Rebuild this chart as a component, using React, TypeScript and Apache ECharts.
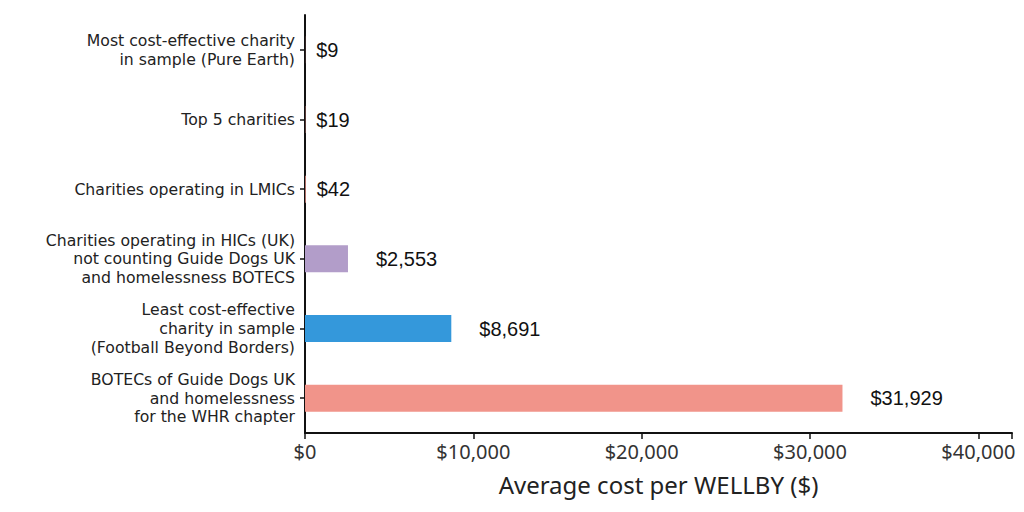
import React, { useEffect, useRef } from 'react';
import * as echarts from 'echarts';

const categories = [
  'Most cost-effective charity\nin sample (Pure Earth)',
  'Top 5 charities',
  'Charities operating in LMICs',
  'Charities operating in HICs (UK)\nnot counting Guide Dogs UK\nand homelessness BOTECS',
  'Least cost-effective\ncharity in sample\n(Football Beyond Borders)',
  'BOTECs of Guide Dogs UK\nand homelessness\nfor the WHR chapter',
];
const costs = [9, 19, 42, 2553, 8691, 31929];
const barColors = ['#f1948a', '#f1948a', '#f1948a', '#b29dc9', '#3498db', '#f1948a'];
const xTicks = [0, 10000, 20000, 30000, 40000];

const axisFont = '"Noto Sans", Lato, sans-serif';
const catFont = '"DejaVu Sans", "Noto Sans", sans-serif';

export default function App() {
  const chartRef = useRef<HTMLDivElement>(null);

  useEffect(() => {
    if (!chartRef.current) return;
    const chart = echarts.init(chartRef.current, undefined, { renderer: 'svg' });

    const option: echarts.EChartsOption = {
      animation: false,
      backgroundColor: '#ffffff',
      grid: { left: 305, right: 12, top: 15, bottom: 79 },
      xAxis: {
        type: 'value',
        min: xTicks[0],
        max: 42000,
        interval: 10000,
        name: 'Average cost per WELLBY ($)',
        nameLocation: 'middle',
        nameGap: 39,
        nameTextStyle: { fontFamily: axisFont, fontSize: 24, color: '#222' },
        axisLine: { show: true, lineStyle: { color: '#111', width: 2 } },
        axisTick: { show: true, length: 6, lineStyle: { color: '#111', width: 1.5 } },
        axisLabel: {
          fontFamily: axisFont,
          fontSize: 20,
          color: '#333',
          margin: 8,
          formatter: (v: number) => (xTicks.includes(v) ? '$' + v.toLocaleString('en-US') : ''),
        },
        splitLine: { show: false },
      },
      yAxis: {
        type: 'category',
        inverse: true,
        data: categories,
        axisLine: { show: true, lineStyle: { color: '#111', width: 2 } },
        axisTick: { show: true, alignWithLabel: true, length: 5, lineStyle: { color: '#111', width: 1.5 } },
        axisLabel: {
          fontFamily: catFont,
          fontSize: 15.7,
          lineHeight: 18.7,
          color: '#222',
          margin: 10,
          align: 'right',
        },
      },
      series: [
        {
          type: 'bar',
          barWidth: 27,
          data: costs.map((v, i) => ({
            value: v,
            itemStyle: { color: barColors[i] },
            label: { distance: v < 100 ? 11 : 28 },
          })),
          label: {
            show: true,
            position: 'right',
            fontFamily: '"Liberation Sans", Arial, sans-serif',
            fontSize: 20,
            color: '#111',
            formatter: (p: any) => '$' + Number(p.value).toLocaleString('en-US'),
          },
        },
      ],
    };

    chart.setOption(option);
    return () => chart.dispose();
  }, []);

  return (
    <div
      ref={chartRef}
      style={{ position: 'fixed', left: 0, top: 0, width: 1024, height: 512 }}
    />
  );
}
